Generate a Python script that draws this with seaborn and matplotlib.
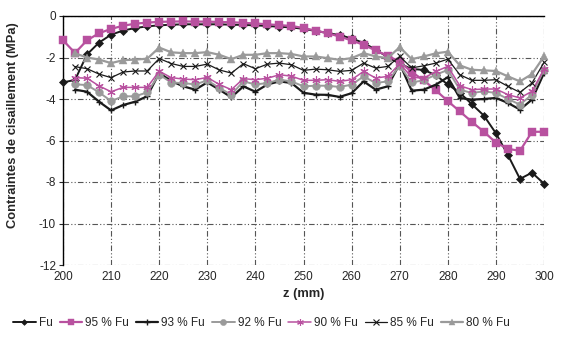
import numpy as np
import pandas as pd
import matplotlib
matplotlib.use("Agg")
import matplotlib.pyplot as plt
import seaborn as sns

sns.set_style("white")
plt.rcParams['font.family'] = ['Liberation Sans', 'DejaVu Sans']
plt.rcParams['axes.unicode_minus'] = False

z = [200, 202.5, 205, 207.5, 210, 212.5, 215, 217.5, 220, 222.5,
     225, 227.5, 230, 232.5, 235, 237.5, 240, 242.5, 245, 247.5,
     250, 252.5, 255, 257.5, 260, 262.5, 265, 267.5, 270, 272.5,
     275, 277.5, 280, 282.5, 285, 287.5, 290, 292.5, 295, 297.5, 300]

fu = [-3.2, -3.08, -1.85, -1.28, -0.9, -0.7, -0.58, -0.5, -0.45, -0.42,
      -0.4, -0.4, -0.4, -0.4, -0.42, -0.43, -0.45, -0.48, -0.52, -0.55,
      -0.62, -0.72, -0.82, -0.92, -1.08, -1.3, -1.62, -1.98, -2.3, -2.55,
      -2.6, -2.85, -3.3, -3.7, -4.25, -4.8, -5.65, -6.7, -7.85, -7.55, -8.08]

fu95 = [-1.17, -1.78, -1.17, -0.83, -0.62, -0.47, -0.37, -0.32, -0.28, -0.27,
        -0.26, -0.27, -0.27, -0.29, -0.3, -0.33, -0.36, -0.4, -0.44, -0.48,
        -0.58, -0.7, -0.83, -0.99, -1.18, -1.39, -1.66, -1.92, -2.2, -2.7,
        -3.1, -3.58, -4.1, -4.6, -5.1, -5.58, -6.1, -6.4, -6.5, -5.58, -5.58]

fu93 = [np.nan, -3.55, -3.65, -4.13, -4.55, -4.29, -4.13, -3.87, -2.75, -3.13,
        -3.39, -3.55, -3.2, -3.55, -3.92, -3.39, -3.65, -3.3, -3.15, -3.23,
        -3.7, -3.79, -3.8, -3.9, -3.72, -3.15, -3.55, -3.39, -2.3, -3.6,
        -3.55, -3.31, -2.95, -3.95, -4.03, -4.0, -3.95, -4.19, -4.51, -4.03, -2.75]

fu92 = [np.nan, -3.29, -3.33, -3.68, -4.1, -3.87, -3.87, -3.68, -2.82, -3.21,
        -3.23, -3.3, -3.1, -3.47, -3.79, -3.15, -3.3, -3.23, -3.07, -3.15,
        -3.39, -3.36, -3.36, -3.42, -3.31, -2.91, -3.23, -3.15, -2.4, -3.2,
        -3.1, -2.83, -2.6, -3.55, -3.71, -3.63, -3.71, -4.0, -4.27, -3.79, -2.59]

fu90 = [np.nan, -2.97, -3.0, -3.37, -3.65, -3.44, -3.44, -3.44, -2.66, -2.97,
        -3.04, -3.07, -2.96, -3.3, -3.55, -3.02, -3.07, -3.0, -2.83, -2.9,
        -3.1, -3.1, -3.07, -3.15, -3.07, -2.67, -2.99, -2.91, -2.3, -2.95,
        -3.0, -2.67, -2.43, -3.36, -3.55, -3.52, -3.52, -3.79, -3.95, -3.63, -2.56]

fu85 = [np.nan, -2.44, -2.54, -2.8, -2.97, -2.7, -2.65, -2.65, -2.05, -2.29,
        -2.43, -2.43, -2.32, -2.6, -2.75, -2.3, -2.54, -2.32, -2.27, -2.35,
        -2.62, -2.56, -2.59, -2.67, -2.62, -2.27, -2.51, -2.43, -1.95, -2.5,
        -2.4, -2.27, -2.08, -2.83, -3.1, -3.1, -3.07, -3.39, -3.68, -3.23, -2.24]

fu80 = [np.nan, -1.8, -2.0, -2.1, -2.27, -2.13, -2.1, -2.06, -1.52, -1.75,
        -1.79, -1.79, -1.74, -1.87, -2.08, -1.87, -1.87, -1.79, -1.79, -1.83,
        -1.95, -1.95, -2.03, -2.11, -2.03, -1.79, -1.95, -2.03, -1.5, -2.08,
        -1.95, -1.8, -1.72, -2.38, -2.59, -2.62, -2.65, -2.91, -3.15, -2.8, -1.95]

labels = ["Fu", "95 % Fu", "93 % Fu", "92 % Fu", "90 % Fu", "85 % Fu", "80 % Fu"]
series = [fu, fu95, fu93, fu92, fu90, fu85, fu80]

x_ticks = [200, 210, 220, 230, 240, 250, 260, 270, 280, 290, 300]
y_ticks = [0, -2, -4, -6, -8, -10, -12]

MAG = "#B8519F"
GRY = "#9A9A9A"
BLK = "#1a1a1a"
styles = [
    dict(color=BLK, marker="D", markersize=3.6, linewidth=1.4, markeredgewidth=0.5),
    dict(color=MAG, marker="s", markersize=5.2, linewidth=1.6, markeredgewidth=0.3),
    dict(color=BLK, marker="+", markersize=5, linewidth=1.6, markeredgewidth=1.0),
    dict(color=GRY, marker="o", markersize=5.6, linewidth=1.4, markeredgewidth=0.3),
    dict(color=MAG, marker=(6, 2, 0), markersize=6, linewidth=1.1, markeredgewidth=0.8),
    dict(color=BLK, marker="x", markersize=4.8, linewidth=0.9, markeredgewidth=0.8),
    dict(color=GRY, marker="^", markersize=6, linewidth=1.6, markeredgewidth=0.3),
]

fig = plt.figure(figsize=(5.63, 3.37), dpi=100)
ax = fig.add_axes([63/563, 1-265/337, (544-63)/563, (265-16)/337])

for lab, vals, st in zip(labels, series, styles):
    df = pd.DataFrame({"z": z, "v": vals}).dropna()
    mec = st["color"]
    sns.lineplot(data=df, x="z", y="v", ax=ax, color=st["color"], marker=st["marker"],
                 markersize=st["markersize"], linewidth=st["linewidth"],
                 markeredgewidth=st["markeredgewidth"], markeredgecolor=mec,
                 label=lab, legend=False, clip_on=False, zorder=3)

ax.set_xlim(200, 300)
ax.set_ylim(-12, 0)
ax.set_xticks(x_ticks)
ax.set_yticks(y_ticks)
ax.set_xticklabels([str(t) for t in x_ticks])
ax.set_yticklabels([str(t) for t in y_ticks])
ax.grid(True, color="#555555", linestyle=(0, (5, 2, 1, 2, 1, 2)), linewidth=0.8)
ax.set_axisbelow(True)
for s in ["right", "bottom"]:
    ax.spines[s].set_visible(False)
ax.spines["left"].set_color("black")
ax.spines["left"].set_linewidth(1.0)
ax.spines["top"].set_color("black")
ax.spines["top"].set_linewidth(1.0)
ax.tick_params(axis="y", left=True, length=3, width=0.8, direction="out", labelsize=8.5, pad=2)
ax.tick_params(axis="x", bottom=False, length=0, labelsize=8.5, pad=4)
ax.set_xlabel("z (mm)", fontsize=9.3, fontweight="bold", labelpad=4)
ax.set_ylabel("Contraintes de cisaillement (MPa)", fontsize=9.3, fontweight="bold")
ax.yaxis.set_label_coords(-0.092, 0.56)

handles, labs = ax.get_legend_handles_labels()
fig.legend(handles, labs, loc="center", bbox_to_anchor=(0.465, 0.042), ncol=7,
           frameon=False, fontsize=8.5, handlelength=1.9, handletextpad=0.25,
           columnspacing=0.6, markerscale=0.8)

fig.savefig("out.png", dpi=100)
